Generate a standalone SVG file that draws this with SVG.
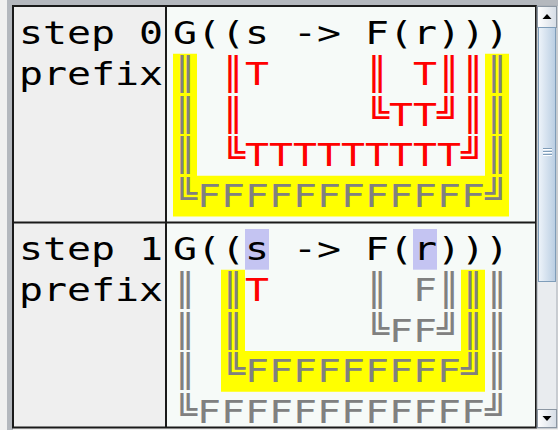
<svg xmlns="http://www.w3.org/2000/svg" width="558" height="430" viewBox="0 0 558 430">
<style>
.t{font-family:"DejaVu Sans Mono","Liberation Mono",monospace;font-size:32px;white-space:pre}
.k{fill:#000000}
.r{fill:#ff0000}
.g{fill:#808080}
.hl{fill:#c4c4f2}
.y{fill:#ffff00}
.lc{fill:#efefef}
.rc{fill:#f6faf8}
.ln{stroke:#1a1a1a;stroke-width:2;fill:none}
</style>
<defs>
<linearGradient id="thumb" x1="0" y1="0" x2="1" y2="0">
<stop offset="0" stop-color="#eef4fa"/>
<stop offset="1" stop-color="#b9cde2"/>
</linearGradient>
<linearGradient id="btn" x1="0" y1="0" x2="1" y2="0">
<stop offset="0" stop-color="#ffffff"/>
<stop offset="1" stop-color="#d6dde6"/>
</linearGradient>
</defs>
<rect x="0" y="0" width="558" height="430" fill="#f0f0f0"/>
<rect x="7" y="0" width="551" height="6" fill="#b4b8be"/>
<rect x="7" y="0" width="6" height="430" fill="#b4b8be"/>

<g id="table">
<rect class="lc" x="13" y="7" width="153" height="420"/>
<rect class="rc" x="167" y="7" width="369" height="420"/>

<g id="step0">
<path class="y" d="M173 53.7 H197 V175.8 H485 V53.7 H509 V216.5 H173 Z"/>
<text class="t k" x="19" y="44.3" textLength="144" lengthAdjust="spacingAndGlyphs">step 0</text>
<text class="t k" x="19" y="85" textLength="144" lengthAdjust="spacingAndGlyphs">prefix</text>
<text class="t k" x="173" y="44.3" textLength="336" lengthAdjust="spacingAndGlyphs" xml:space="preserve">G((s -&gt; F(r)))</text>
<text class="t" x="173" y="85" textLength="336" lengthAdjust="spacingAndGlyphs" xml:space="preserve"><tspan class="g">║</tspan><tspan class="r"> ║T    ║ T║║</tspan><tspan class="g">║</tspan></text>
<text class="t" x="173" y="125.7" textLength="336" lengthAdjust="spacingAndGlyphs" xml:space="preserve"><tspan class="g">║</tspan><tspan class="r"> ║     ╚TT╝║</tspan><tspan class="g">║</tspan></text>
<text class="t" x="173" y="166.4" textLength="336" lengthAdjust="spacingAndGlyphs" xml:space="preserve"><tspan class="g">║</tspan><tspan class="r"> ╚TTTTTTTTT╝</tspan><tspan class="g">║</tspan></text>
<text class="t g" x="173" y="207.1" textLength="336" lengthAdjust="spacingAndGlyphs" xml:space="preserve">╚FFFFFFFFFFFF╝</text>
</g>

<g id="step1">
<path class="y" d="M221 269.7 H245 V351.1 H461 V269.7 H485 V391.8 H221 Z"/>
<rect class="hl" x="245" y="229" width="24" height="40.7"/>
<rect class="hl" x="413" y="229" width="24" height="40.7"/>
<text class="t k" x="19" y="260.3" textLength="144" lengthAdjust="spacingAndGlyphs">step 1</text>
<text class="t k" x="19" y="301" textLength="144" lengthAdjust="spacingAndGlyphs">prefix</text>
<text class="t k" x="173" y="260.3" textLength="336" lengthAdjust="spacingAndGlyphs" xml:space="preserve">G((s -&gt; F(r)))</text>
<text class="t g" x="173" y="301" textLength="336" lengthAdjust="spacingAndGlyphs" xml:space="preserve">║ ║<tspan class="r">T</tspan>    ║ F║║║</text>
<text class="t g" x="173" y="341.7" textLength="336" lengthAdjust="spacingAndGlyphs" xml:space="preserve">║ ║     ╚FF╝║║</text>
<text class="t g" x="173" y="382.4" textLength="336" lengthAdjust="spacingAndGlyphs" xml:space="preserve">║ ╚FFFFFFFFF╝║</text>
<text class="t g" x="173" y="423.1" textLength="336" lengthAdjust="spacingAndGlyphs" xml:space="preserve">╚FFFFFFFFFFFF╝</text>
</g>

<g id="gridlines">
<path class="ln" d="M13 6 V428 M166 6 V428 M536 6 V428 M12 6 H537 M12 222.5 H537 M12 427.5 H537"/>
</g>
</g>

<g id="scrollbar">
<rect x="537" y="6" width="20" height="422" fill="#e9ecef" stroke="#a3aab2" stroke-width="1"/>
<rect x="537.5" y="6.5" width="19" height="21" fill="url(#btn)" stroke="#8c97a3" stroke-width="1"/>
<path d="M542.5 19 H551.5 L547 14 Z" fill="#000"/>
<rect x="538.5" y="27.5" width="17" height="254" fill="url(#thumb)" stroke="#7f9db9" stroke-width="1"/>
<path d="M543 148.5 H552 M543 151.5 H552 M543 154.5 H552" stroke="#7f9db9" stroke-width="1"/>
<path d="M543 149.5 H552 M543 152.5 H552 M543 155.5 H552" stroke="#ffffff" stroke-width="1"/>
<rect x="537.5" y="409.5" width="19" height="18" fill="url(#btn)" stroke="#8c97a3" stroke-width="1"/>
<path d="M542.5 416 H551.5 L547 421 Z" fill="#000"/>
</g>
</svg>
